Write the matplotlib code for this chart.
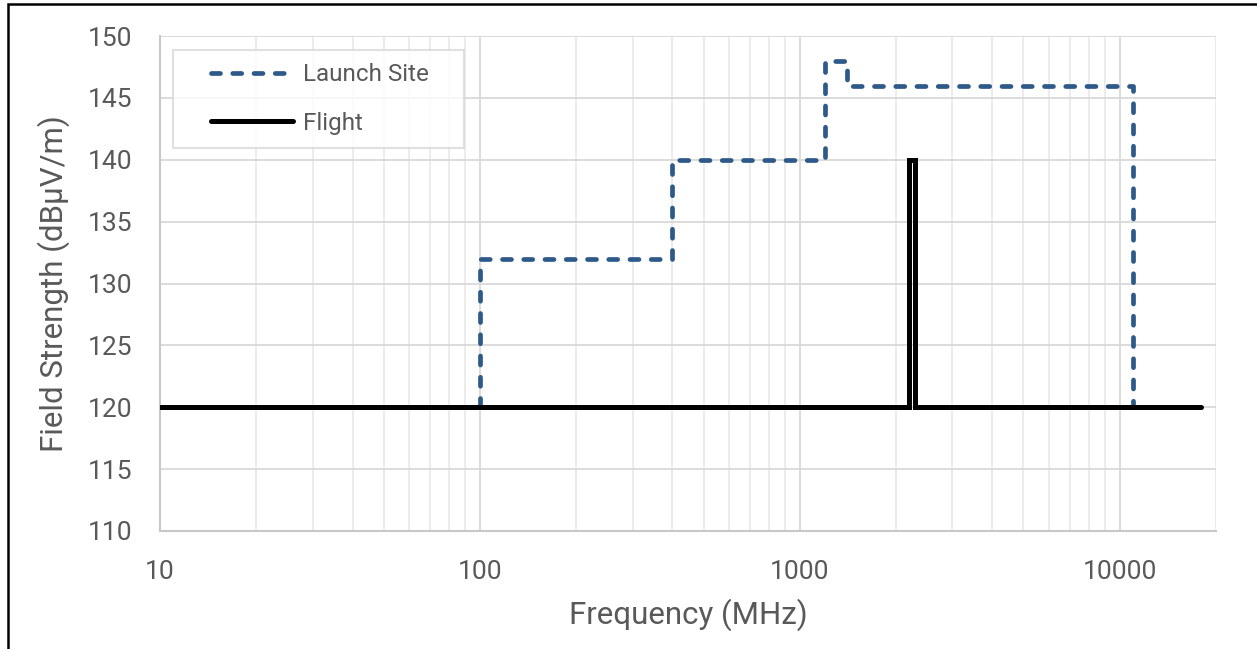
import matplotlib.pyplot as plt
from matplotlib.lines import Line2D
from matplotlib.legend_handler import HandlerLine2D
from matplotlib.patches import Rectangle
from matplotlib.ticker import FixedLocator, LogLocator, NullFormatter

plt.rcParams["font.family"] = ["Roboto", "DejaVu Sans"]

# step breakpoints (MHz) and field strength levels (dBuV/m)
launch_freq = [100, 100, 400, 1200, 1400, 11000]
launch_level = [120, 132, 140, 148, 146, 120]
flight_freq = [10, 2200, 2290, 18000]
flight_level = [120, 140, 120, 120]

x_ticks = [10, 100, 1000, 10000]
x_tick_labels = ["10", "100", "1000", "10000"]
y_ticks = [110, 115, 120, 125, 130, 135, 140, 145, 150]

text_col = "#595959"
grid_col = "#d9d9d9"

fig = plt.figure(figsize=(12.57, 6.49), dpi=100)
ax = fig.add_axes([160 / 1257, 1 - 531 / 649, (1216 - 160) / 1257, (531 - 36) / 649])

ax.plot(launch_freq, launch_level, drawstyle="steps-post", color="#2E5A8A", lw=3.4,
        linestyle=(0, (1.9, 2.6)), dash_capstyle="round", label="Launch Site", zorder=3)
ax.plot(flight_freq, flight_level, drawstyle="steps-post", color="black", lw=3.6,
        solid_joinstyle="miter", solid_capstyle="round", label="Flight", zorder=4)

ax.set_xscale("log")
ax.set_xlim(10, 20000)
ax.set_ylim(110, 150)
ax.xaxis.set_major_locator(FixedLocator(x_ticks))
ax.set_xticklabels(x_tick_labels)
ax.xaxis.set_minor_locator(LogLocator(base=10, subs=range(2, 10)))
ax.xaxis.set_minor_formatter(NullFormatter())
ax.set_yticks(y_ticks)

ax.grid(which="major", color=grid_col, lw=1.3, zorder=0)
ax.grid(which="minor", axis="x", color="#ebebeb", lw=1.3, zorder=0)
ax.tick_params(which="both", length=0, colors=text_col, labelsize=19)
ax.tick_params(axis="x", pad=21)
ax.tick_params(axis="y", pad=20)

for s in ["top", "right"]:
    ax.spines[s].set_visible(False)
for s in ["left", "bottom"]:
    ax.spines[s].set_color("#c8c8c8")
    ax.spines[s].set_linewidth(1.5)

ax.set_xlabel("Frequency (MHz)", fontsize=22.5, color=text_col, labelpad=10)
ax.set_ylabel("Field Strength (dBµV/m)", fontsize=22.5, color=text_col, labelpad=13)

leg_box = ((173 - 160) / 1056, 1 - (146 - 36) / 495, (464 - 173) / 1056, (146 - 50) / 495)
leg = ax.legend(loc="upper left", bbox_to_anchor=leg_box, mode="expand", fontsize=17.5,
                frameon=True, fancybox=False, borderpad=0.55, labelspacing=1.05,
                handlelength=4.4, handletextpad=0.4, borderaxespad=0,
                handler_map={Line2D: HandlerLine2D(marker_pad=0, xpad=1.0)})
leg.get_frame().set_edgecolor(grid_col)
leg.get_frame().set_linewidth(1.5)
for t in leg.get_texts():
    t.set_color(text_col)

# outer black frame of the screenshot
fig.patches.append(Rectangle((8 / 1257, -0.1), 1.2, 1 - 4 / 649 + 0.1, transform=fig.transFigure,
                             fill=False, edgecolor="black", lw=1.8))

fig.savefig("out.png", dpi=100)
